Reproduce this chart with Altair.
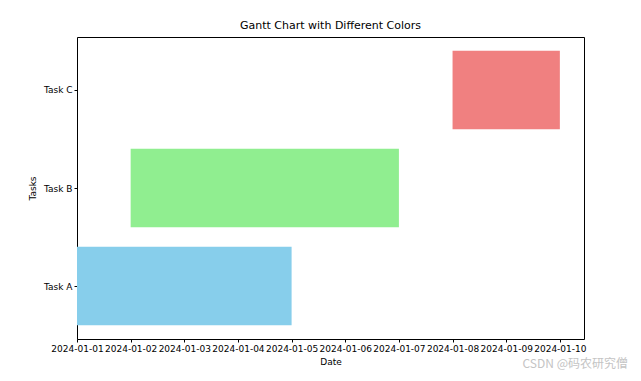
import altair as alt
import pandas as pd

tasks = ["Task A", "Task B", "Task C"]
starts = ["2024-01-01", "2024-01-02", "2024-01-08"]
ends = ["2024-01-05", "2024-01-07", "2024-01-10"]
colors = ["#87CEEB", "#90EE90", "#F08080"]
tick_dates = ["2024-01-%02d" % d for d in range(1, 11)]

df = pd.DataFrame({
    "task": tasks,
    "start": starts,
    "end": ends,
    "idx": [0, 1, 2],
})
df["lo"] = df["idx"] - 0.4
df["hi"] = df["idx"] + 0.4

FONT = "DejaVu Sans"

xscale = alt.Scale(type="utc", domain=["2024-01-01T00:00:00Z", "2024-01-10T10:48:00Z"], nice=False)
yscale = alt.Scale(domain=[-0.54, 2.54], nice=False, zero=False)

label_expr = "datum.value == 0 ? 'Task A' : datum.value == 1 ? 'Task B' : 'Task C'"

bars = alt.Chart(df).mark_rect().encode(
    x=alt.X("start:T", scale=xscale, title="Date",
            axis=alt.Axis(values=tick_dates, format="%Y-%m-%d",
                          grid=False, domainColor="black", tickColor="black", tickSize=3,
                          labelColor="black", labelFont=FONT, labelFontSize=9, labelPadding=2,
                          labelOverlap=False, labelFlush=False,
                          titleFont=FONT, titleFontSize=9, titleFontWeight="normal", titleColor="black",
                          titlePadding=4)),
    x2="end:T",
    y=alt.Y("lo:Q", scale=yscale, title="Tasks",
            axis=alt.Axis(values=[0, 1, 2], labelExpr=label_expr, grid=False,
                          domainColor="black", tickColor="black", tickSize=3,
                          labelColor="black", labelFont=FONT, labelFontSize=9, labelPadding=2,
                          titleFont=FONT, titleFontSize=9, titleFontWeight="normal", titleColor="black",
                          titlePadding=6)),
    y2="hi:Q",
    color=alt.Color("task:N", scale=alt.Scale(domain=tasks, range=colors), legend=None),
)

frame = alt.Chart(df).mark_point(opacity=0).encode(
    x=alt.X("start:T", scale=xscale,
            axis=alt.Axis(orient="top", labels=False, ticks=False, grid=False, title=None,
                          domainColor="black")),
    y=alt.Y("lo:Q", scale=yscale,
            axis=alt.Axis(orient="right", labels=False, ticks=False, grid=False, title=None,
                          domainColor="black")),
)

wm = alt.Chart(pd.DataFrame({"t": ["CSDN @码农研究僧"]})).mark_text(
    align="right", baseline="middle", font="Noto Sans CJK SC", fontSize=12, color="#c4c4c4"
).encode(text="t:N", x=alt.value(551), y=alt.value(327))

chart = alt.layer(bars, frame, wm).resolve_axis(x="independent", y="independent").properties(
    width=507, height=302,
    title=alt.TitleParams("Gantt Chart with Different Colors", font=FONT, fontSize=11,
                          fontWeight="normal", color="black", anchor="middle", offset=6),
    padding={"left": 69, "top": 29, "right": 49, "bottom": 34},
    autosize=alt.AutoSizeParams(type="none"),
).configure_view(stroke=None).configure(background="white")

chart.save("out.html", embed_options={"renderer": "svg", "actions": False})
